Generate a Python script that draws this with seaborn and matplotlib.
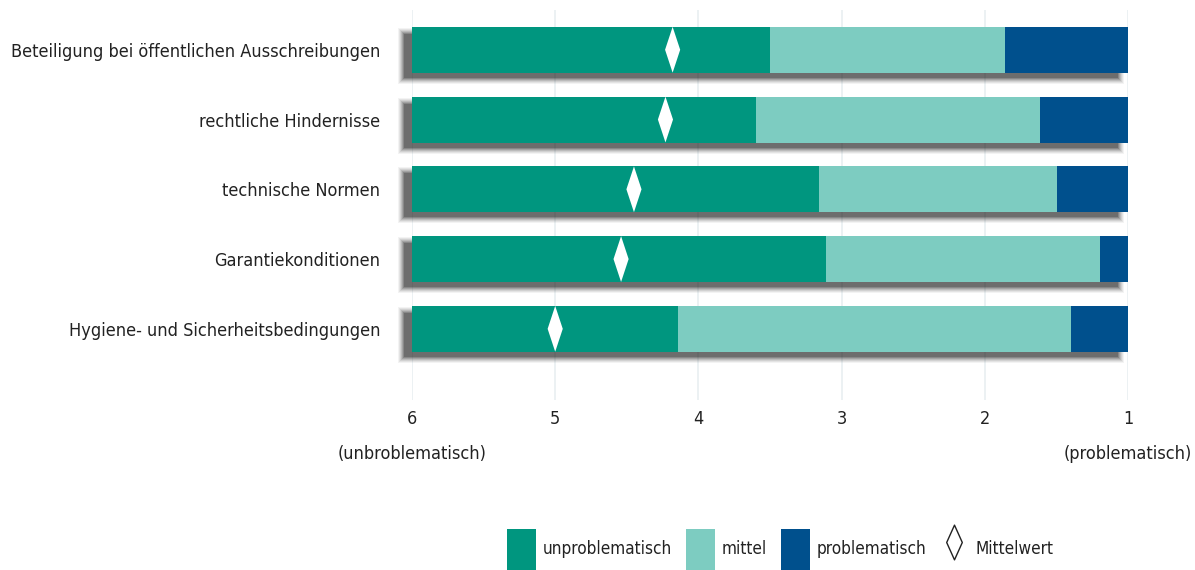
import matplotlib
matplotlib.use("Agg")
import matplotlib.pyplot as plt
import matplotlib.transforms as mtransforms
from matplotlib.path import Path
from matplotlib.patches import Patch
from matplotlib.lines import Line2D
import numpy as np
import pandas as pd
import seaborn as sns

# Survey items and answer shares (percent of respondents)
categories = [
    "Beteiligung bei öffentlichen Ausschreibungen",
    "rechtliche Hindernisse",
    "technische Normen",
    "Garantiekonditionen",
    "Hygiene- und Sicherheitsbedingungen",
]
share_unproblematisch = [50.0, 48.1, 56.9, 57.8, 37.2]
share_mittel = [32.8, 39.6, 33.2, 38.3, 54.9]
share_problematisch = [17.2, 12.3, 9.9, 3.9, 7.9]
# Mean rating on the 6 (unproblematic) ... 1 (problematic) scale
mittelwert = [4.18, 4.23, 4.45, 4.54, 5.00]

tick_values = [6, 5, 4, 3, 2, 1]
tick_labels = ["6\n(unbroblematisch)", "5", "4", "3", "2", "1\n(problematisch)"]
legend_labels = ["unproblematisch", "mittel", "problematisch", "Mittelwert"]

col_unp = "#00967f"
col_mit = "#7dccc1"
col_prob = "#00508d"

sns.set_theme(style="white")
plt.rcParams["font.family"] = ["DejaVu Sans"]
plt.rcParams["font.stretch"] = "condensed"

fig = plt.figure(figsize=(11.95, 5.70), dpi=100)
ax = fig.add_axes([412 / 1195, 1 - 400 / 570, 716 / 1195, 390 / 570])

scale_max, scale_min = 6, 1
span = scale_max - scale_min

df = pd.DataFrame({
    "item": categories,
    "unp": share_unproblematisch,
    "mit": share_mittel,
    "prob": share_problematisch,
    "mean": mittelwert,
})
# Segment boundaries on the rating scale (bars grow from 0, the axis
# runs from 6 down to 1, so each layer covers [boundary .. 1])
df["full"] = scale_max
df["edge_mit"] = scale_max - span * df["unp"] / 100
df["edge_prob"] = scale_min + span * df["prob"] / 100

bar_w = 0.66
# soft drop shadow behind each bar
shadow_tf = mtransforms.offset_copy(ax.transData, fig=fig, x=-9, y=-6, units="dots")
ypos = np.arange(len(categories))
for grow, alpha in [(5, 0.05), (4, 0.07), (3, 0.09), (2, 0.12), (1, 0.15),
                    (0, 0.2), (-1, 0.25)]:
    dx = grow / 143.2
    dy = grow / 69.75
    ax.barh(ypos, -(span + 2 * dx), left=scale_max + dx, height=bar_w + 2 * dy,
            color="#1e1e1e", alpha=alpha, linewidth=0, transform=shadow_tf,
            clip_on=False, zorder=1)

for col, color in [("full", col_unp), ("edge_mit", col_mit), ("edge_prob", col_prob)]:
    sns.barplot(data=df, x=col, y="item", order=categories, orient="h",
                color=color, width=bar_w, saturation=1, linewidth=0, ax=ax,
                zorder=3)

diamond = Path([(0, 1), (0.33, 0), (0, -1), (-0.33, 0), (0, 1)],
               [Path.MOVETO, Path.LINETO, Path.LINETO, Path.LINETO, Path.CLOSEPOLY])
sns.scatterplot(data=df, x="mean", y="item", marker=diamond, s=33 ** 2,
                color="white", edgecolor="none", linewidth=0, ax=ax, zorder=5)

ax.set_xlim(scale_max, scale_min)
ax.set_ylim(len(categories) - 1 + 1.02, -0.57)
ax.set_xticks(tick_values)
ax.set_xticklabels(tick_labels, fontsize=13, color="#222222", linespacing=2.2)
ax.tick_params(axis="x", length=0, pad=7)
ax.tick_params(axis="y", length=0, pad=23, labelsize=13, labelcolor="#222222")
ax.set_xlabel("")
ax.set_ylabel("")
for s in ax.spines.values():
    s.set_visible(False)
ax.grid(axis="x", color="#e9eff1", linewidth=1.2, zorder=0)
ax.grid(axis="y", visible=False)
ax.set_axisbelow(True)

legend_diamond = Path([(0, 1), (0.45, 0), (0, -1), (-0.45, 0), (0, 1)],
                      [Path.MOVETO, Path.LINETO, Path.LINETO, Path.LINETO, Path.CLOSEPOLY])
handles = [
    Patch(facecolor=col_unp, edgecolor="none"),
    Patch(facecolor=col_mit, edgecolor="none"),
    Patch(facecolor=col_prob, edgecolor="none"),
    Line2D([], [], linestyle="none", marker=legend_diamond, markersize=25,
           markerfacecolor="white", markeredgecolor="#222222", markeredgewidth=1),
]
fig.legend(handles, legend_labels, loc="lower center", bbox_to_anchor=(0.653, -0.027),
           ncol=4, frameon=False, fontsize=12.3, handlelength=1.7, handleheight=3.3,
           handletextpad=0.4, columnspacing=0.8, labelcolor="#222222")

fig.savefig("out.png", dpi=100)
